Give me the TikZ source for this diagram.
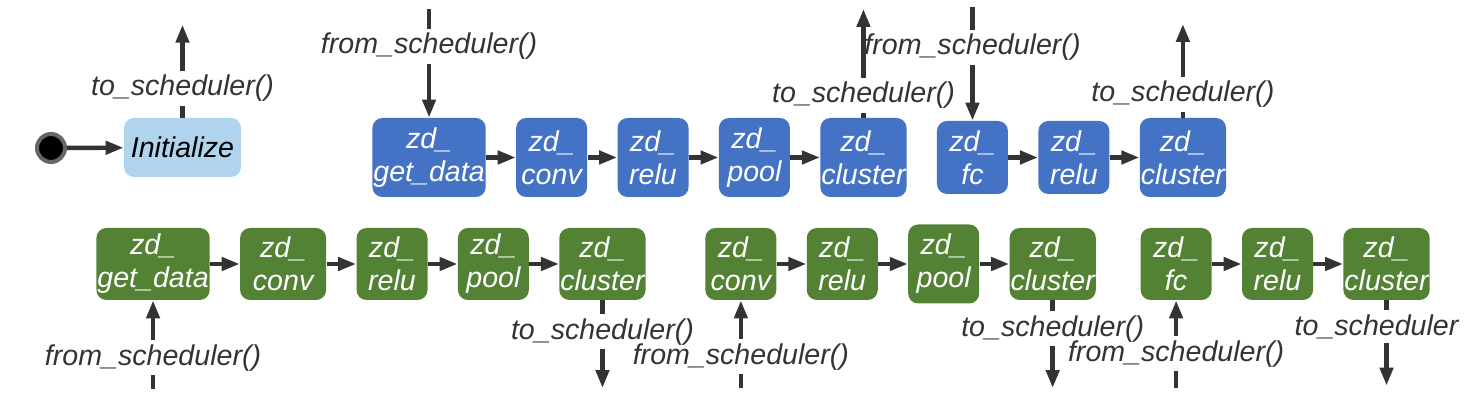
\documentclass[tikz,border=0pt]{standalone}
\usepackage{fontspec}
\setmainfont{Liberation Sans}
\usetikzlibrary{arrows.meta,positioning}
\definecolor{blu}{RGB}{68,114,196}
\definecolor{grn}{RGB}{84,130,53}
\definecolor{ltb}{RGB}{176,212,238}
\definecolor{ink}{RGB}{51,51,51}

\begin{document}
\begin{tikzpicture}[x=0.5pt,y=-0.5pt,font=\fontsize{14.3}{16.5}\selectfont\itshape,>={Triangle[length=9pt,width=6.5pt]},node distance=14.8pt]
\tikzstyle{st}=[rounded corners=5pt,align=center,text=white,inner xsep=0.5pt,inner ysep=0pt,minimum width=35.5pt]
\tikzstyle{b}=[st,fill=blu,minimum height=39.5pt]
\tikzstyle{g}=[st,fill=grn,minimum height=36pt]
\tikzstyle{lb}=[text=ink,inner xsep=0pt,inner ysep=2pt]
\tikzstyle{w}=[ink,line width=2.2pt]
\useasboundingbox (0,0) rectangle (1476,415);
% start
\node[circle,fill=black,draw=black!60,line width=2pt,minimum size=14pt,inner sep=0pt] (s) at (51,148) {};
\node[fill=ltb,rounded corners=5pt,minimum width=58.5pt,minimum height=29.5pt,inner sep=2pt] (init) at (182.5,147.5) {Initialize};
\draw[w,->] (s) -- (init);
% blue row
\node[b,anchor=west] (bgd) at (372,157.5) {zd\_\\get\_data};
\node[b,right=of bgd] (bcv) {zd\_\\conv};
\node[b,right=of bcv] (brl) {zd\_\\relu};
\node[b,right=of brl] (bpl) {zd\_\\pool};
\node[b,right=of bpl] (bcl) {zd\_\\cluster};
\node[b,right=of bcl,minimum height=36.5pt] (bfc) {zd\_\\fc};
\node[b,right=of bfc,minimum height=36.5pt] (brl2) {zd\_\\relu};
\node[b,right=of brl2] (bcl2) {zd\_\\cluster};
\draw[w,->] (bgd)--(bcv); \draw[w,->] (bcv)--(brl); \draw[w,->] (brl)--(bpl); \draw[w,->] (bpl)--(bcl);
\draw[w,->] (bfc)--(brl2); \draw[w,->] (brl2)--(bcl2);
% green row
\node[g,anchor=west] (ggd) at (96,264) {zd\_\\get\_data};
\node[g,right=of ggd,minimum width=43pt] (gcv) {zd\_\\conv};
\node[g,right=of gcv] (grl) {zd\_\\relu};
\node[g,right=of grl] (gpl) {zd\_\\pool};
\node[g,right=of gpl] (gcl) {zd\_\\cluster};
\node[g,right=29.5pt of gcl] (gcv2) {zd\_\\conv};
\node[g,right=of gcv2] (grl2) {zd\_\\relu};
\node[g,right=of grl2,minimum height=39.5pt] (gpl2) {zd\_\\pool};
\node[g,right=of gpl2] (gcl2) {zd\_\\cluster};
\node[g,right=22pt of gcl2] (gfc) {zd\_\\fc};
\node[g,right=of gfc] (grl3) {zd\_\\relu};
\node[g,right=of grl3] (gcl3) {zd\_\\cluster};
\draw[w,->] (ggd)--(gcv); \draw[w,->] (gcv)--(grl); \draw[w,->] (grl)--(gpl); \draw[w,->] (gpl)--(gcl);
\draw[w,->] (gcv2)--(grl2); \draw[w,->] (grl2)--(gpl2); \draw[w,->] (gpl2)--(gcl2);
\draw[w,->] (gfc)--(grl3); \draw[w,->] (grl3)--(gcl3);
% scheduler calls, top
\node[lb,above=5.75pt of init] (ti) {to\_scheduler()};
\coordinate[above=23pt of ti] (tia);
\draw[w] (init)--(ti); \draw[w,->] (ti)--(tia);
\node[lb,above=26.8pt of bgd] (fb1) {from\_scheduler()};
\coordinate[above=9.8pt of fb1] (fb1a);
\draw[w] (fb1a)--(fb1); \draw[w,->] (fb1)--(bgd);
\node[lb,above=2.3pt of bcl] (tb1) {to\_scheduler()};
\coordinate[above=34.3pt of tb1] (tb1a);
\draw[w] (bcl)--(tb1); \draw[w,->] (tb1)--(tb1a);
\node[lb,above=27.8pt of bfc] (fb2) {from\_scheduler()};
\coordinate[above=11.3pt of fb2] (fb2a);
\draw[w] (fb2a)--(fb2); \draw[w,->] (fb2)--(bfc);
\node[lb,above=2.8pt of bcl2] (tb2) {to\_scheduler()};
\coordinate[above=26.3pt of tb2] (tb2a);
\draw[w] (bcl2)--(tb2); \draw[w,->] (tb2)--(tb2a);
% scheduler calls, bottom
\node[lb,below=19.8pt of ggd] (fg1) {from\_scheduler()};
\coordinate[below=6.8pt of fg1] (fg1a);
\draw[w] (fg1a)--(fg1); \draw[w,->] (fg1)--(ggd);
\node[lb,below=6.8pt of gcl] (tg1) {to\_scheduler()};
\coordinate[below=19.3pt of tg1] (tg1a);
\draw[w] (gcl)--(tg1); \draw[w,->] (tg1)--(tg1a);
\node[lb,below=19.3pt of gcv2] (fg2) {from\_scheduler()};
\coordinate[below=6.8pt of fg2] (fg2a);
\draw[w] (fg2a)--(fg2); \draw[w,->] (fg2)--(gcv2);
\node[lb,below=5.3pt of gcl2] (tg2) {to\_scheduler()};
\coordinate[below=20.8pt of tg2] (tg2a);
\draw[w] (gcl2)--(tg2); \draw[w,->] (tg2)--(tg2a);
\node[lb,below=17.8pt of gfc] (fg3) {from\_scheduler()};
\coordinate[below=8.3pt of fg3] (fg3a);
\draw[w] (fg3a)--(fg3); \draw[w,->] (fg3)--(gfc);
\node[lb,below=4.8pt of gcl3,xshift=-5pt] (tg3) {to\_scheduler};
\coordinate[below=21.3pt of tg3.south -| gcl3] (tg3a);
\draw[w] (gcl3)--(gcl3 |- tg3.north); \draw[w,->] (gcl3 |- tg3.south)--(tg3a);
\end{tikzpicture}
\end{document}
